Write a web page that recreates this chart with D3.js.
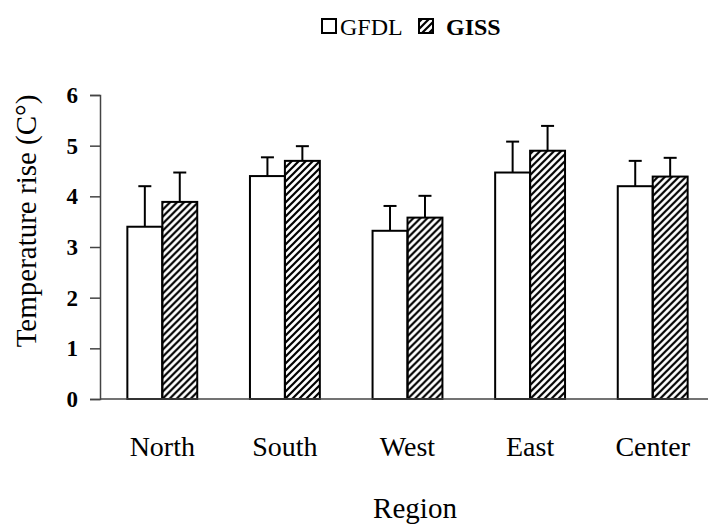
<!DOCTYPE html>
<html>
<head>
<meta charset="utf-8">
<script src="https://cdnjs.cloudflare.com/ajax/libs/d3/7.8.5/d3.min.js"></script>
<style>
  body { margin: 0; background: #fff; }
  text { font-family: "Liberation Serif", "Times New Roman", serif; fill: #000; }
</style>
</head>
<body>
<script>
// chart data
const regions = ["North", "South", "West", "East", "Center"];
const seriesNames = ["GFDL", "GISS"];
const gfdl = [3.4, 4.4, 3.32, 4.47, 4.2];
const gfdlErr = [0.8, 0.37, 0.49, 0.61, 0.5];
const giss = [3.89, 4.7, 3.58, 4.9, 4.39];
const gissErr = [0.58, 0.29, 0.43, 0.49, 0.37];
const yTicks = [0, 1, 2, 3, 4, 5, 6];

const W = 713, H = 527;

const svg = d3.select("body").append("svg")
    .attr("width", W)
    .attr("height", H);

// hatch pattern for GISS
const defs = svg.append("defs");
defs.append("pattern")
    .attr("id", "hatch")
    .attr("patternUnits", "userSpaceOnUse")
    .attr("width", 7)
    .attr("height", 7)
    .append("path")
    .attr("d", "M-1,1 l2,-2 M0,7 l7,-7 M6,8 l2,-2")
    .attr("stroke", "#000")
    .attr("stroke-width", 2.2);

// build rows from the arrays
const rows = regions.map((r, i) => ({
    region: r,
    vals: [
        { key: "GFDL", v: gfdl[i], e: gfdlErr[i] },
        { key: "GISS", v: giss[i], e: gissErr[i] }
    ]
}));

// scales
const x0 = d3.scaleBand()
    .domain(regions)
    .range([101, 714])
    .paddingInner(0.43)
    .paddingOuter(0.215);

const x1 = d3.scaleBand()
    .domain(seriesNames)
    .range([0, x0.bandwidth()]);

const y = d3.scaleLinear()
    .domain([0, 6])
    .range([399, 95]);

const fillFor = k => k === "GFDL" ? "#fff" : "url(#hatch)";

// bars
const groups = svg.selectAll(".grp")
    .data(rows)
    .enter()
    .append("g")
    .attr("class", "grp")
    .attr("transform", d => "translate(" + x0(d.region) + ",0)");

// error bars (upper half only)
groups.selectAll(".err")
    .data(d => d.vals)
    .enter()
    .append("g")
    .attr("class", "err")
    .each(function(d) {
        const cx = x1(d.key) + x1.bandwidth() / 2;
        const g = d3.select(this);
        g.append("line")
            .attr("x1", cx).attr("x2", cx)
            .attr("y1", y(d.v)).attr("y2", y(d.v + d.e))
            .attr("stroke", "#000").attr("stroke-width", 2);
        g.append("line")
            .attr("x1", cx - 6.5).attr("x2", cx + 6.5)
            .attr("y1", y(d.v + d.e)).attr("y2", y(d.v + d.e))
            .attr("stroke", "#000").attr("stroke-width", 2);
    });

groups.selectAll("rect")
    .data(d => d.vals)
    .enter()
    .append("rect")
    .attr("x", d => x1(d.key))
    .attr("y", d => y(d.v))
    .attr("width", x1.bandwidth())
    .attr("height", d => y(0) - y(d.v))
    .attr("fill", d => fillFor(d.key))
    .attr("stroke", "#000")
    .attr("stroke-width", 2);

// y axis
const yAxis = svg.append("g")
    .attr("transform", "translate(100,0)")
    .call(d3.axisLeft(y).tickValues(yTicks).tickFormat(d3.format("d")).tickSize(10).tickPadding(12));
yAxis.select(".domain").attr("stroke", "#444").attr("stroke-width", 1.5);
yAxis.selectAll(".tick line").attr("stroke", "#444").attr("stroke-width", 1.5);
yAxis.selectAll(".tick text")
    .attr("font-family", "Liberation Serif, Times New Roman, serif")
    .attr("font-size", 23)
    .attr("font-weight", "bold")
    .attr("fill", "#000");

// x axis baseline
svg.append("line")
    .attr("x1", 100).attr("x2", 708)
    .attr("y1", y(0)).attr("y2", y(0))
    .attr("stroke", "#444")
    .attr("stroke-width", 1.5);

// category labels
svg.selectAll(".cat")
    .data(regions)
    .enter()
    .append("text")
    .attr("class", "cat")
    .attr("x", d => x0(d) + x0.bandwidth() / 2)
    .attr("y", 456)
    .attr("text-anchor", "middle")
    .attr("font-size", 28)
    .text(d => d);

// axis titles
svg.append("text")
    .attr("x", 415)
    .attr("y", 518)
    .attr("text-anchor", "middle")
    .attr("font-size", 29)
    .text("Region");

svg.append("text")
    .attr("transform", "translate(36,221) rotate(-90)")
    .attr("text-anchor", "middle")
    .attr("font-size", 29)
    .text("Temperature rise (C°)");

// legend
const legend = svg.append("g");
const legBoxX = [322, 419];
const legTextX = [340, 446];
seriesNames.forEach((s, i) => {
    legend.append("rect")
        .attr("x", legBoxX[i])
        .attr("y", 19)
        .attr("width", 14)
        .attr("height", 14)
        .attr("fill", fillFor(s))
        .attr("stroke", "#000")
        .attr("stroke-width", 2);
    legend.append("text")
        .attr("x", legTextX[i])
        .attr("y", 35)
        .attr("font-size", 24)
        .attr("font-weight", i === 1 ? "bold" : "normal")
        .text(s);
});
</script>
</body>
</html>
